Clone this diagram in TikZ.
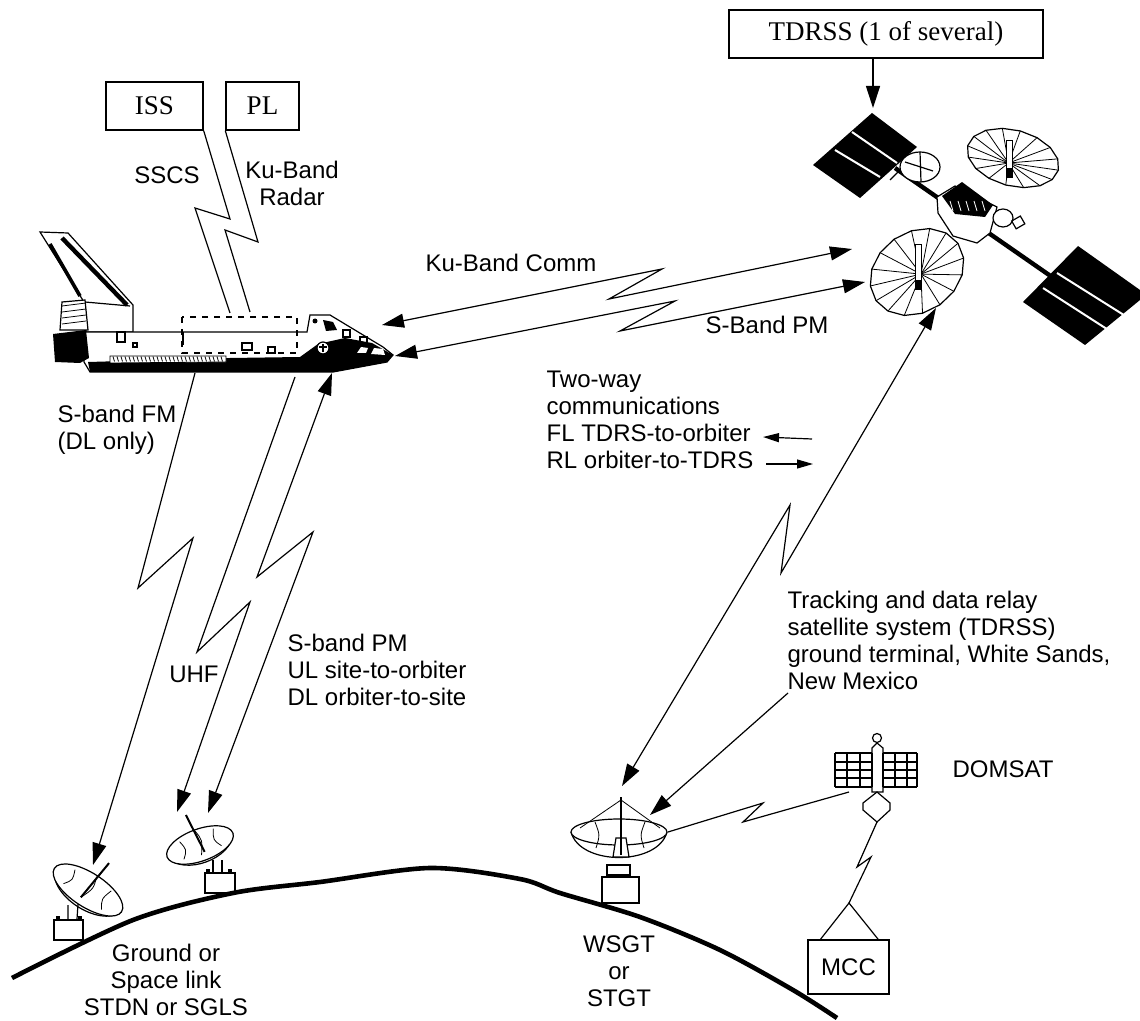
\documentclass[tikz,border=0pt]{standalone}
\usepackage{fontspec}
\setmainfont{Liberation Sans}
\newfontfamily\boxfont{Liberation Serif}
\usetikzlibrary{
    calc,
    arrows.meta,
    positioning
}
\tikzset{
    lbl/.style={font=\fontsize{12}{13.5}\selectfont,inner sep=0pt,align=left},
    cbox/.style={draw,line width=0.7pt,inner sep=0pt,font=\boxfont\fontsize{13.5}{15}\selectfont},
    link/.style={line width=0.6pt},
    bigtip/.style={-{Triangle[length=11pt,width=7pt]}},
    twotip/.style={{Triangle[length=11pt,width=7pt]}-{Triangle[length=11pt,width=7pt]}},
    smalltip/.style={-{Triangle[length=8pt,width=4.5pt]}},
    earth/.style={line width=2.3pt},
    thin/.style={line width=0.4pt}
}

\begin{document}
\begin{tikzpicture}[x=0.5pt,y=-0.5pt,line width=0.6pt]
    \useasboundingbox (0,0) rectangle (1140,1021);

    % ground
    \draw[earth] plot[smooth] coordinates {(12,978) (133,920) (233,893) (320,882) (430,868) (520,879) (560,893) (640,917) (720,950) (793,990) (837,1018)};

    % orbiter
    \filldraw[fill=white] (40,232) -- (68,233) -- (133,305) -- (133,332) -- (86,332) -- (84,302) -- cycle;
    \draw[line width=2.2pt] (62,238) -- (127,305);
    \draw[line width=1.8pt] (50,244) -- (80,296);
    \draw (85,302) -- (130,306);
    \filldraw[fill=white] (85,332) -- (307,332) -- (310,315) -- (330,315) -- (383,347) -- (393,355) -- (387,362) -- (333,372) -- (90,372) -- (84,362) -- cycle;
    \fill (88,362) -- (230,358) -- (300,357) -- (318,344) -- (345,338) -- (372,343) -- (393,355) -- (387,362) -- (333,372) -- (90,372) -- cycle;
    \filldraw[fill=white,thin] (110,356) -- (226,356) -- (226,362) -- (110,363) -- cycle;
    \foreach \i in {113,117,...,223} \draw[thin] (\i,356.5) -- (\i+1.5,361.5);
    \filldraw[fill=white] (62,302) -- (85,300) -- (88,330) -- (60,330) -- cycle;
    \foreach \i in {306,312,...,326} \draw[thin] (62,\i) -- (86,\i-3);
    \fill (53,334) -- (86,330) -- (89,358) -- (80,363) -- (55,362) -- cycle;
    \draw[dashed] (182,317) rectangle (297,353);
    \draw (183,332) -- (183,345);
    \draw (117,332) rectangle (125,342);
    \draw (133,343) rectangle (137,347);
    \draw (242,343) rectangle (252,350);
    \draw (268,347) rectangle (275,353);
    \fill (315,321) circle[radius=2.5];
    \fill (323,320) -- (333,322) -- (337,330) -- (326,331) -- cycle;
    \draw (343,330) rectangle (350,337);
    \draw (360,337) rectangle (367,343);
    \filldraw[fill=white] (323,348) circle[radius=6];
    \draw (323,344) -- (323,352) (319,347) -- (327,347);
    \fill[white] (357,353) -- (361,347) -- (368,348) -- (366,353) -- cycle;
    \fill[white] (371,354) -- (374,348) -- (383,349) -- (385,355) -- cycle;

    % TDRS
    \fill (872,113) -- (917,147) -- (860,198) -- (813,165) -- cycle;
    \draw[white,line width=1pt] (852,132) -- (897,163) (835,150) -- (880,177);
    \fill (1078,246) -- (1140,290) -- (1140,300) -- (1085,345) -- (1023,302) -- cycle;
    \draw[white,line width=1pt] (1057,273) -- (1127,317) (1043,288) -- (1113,333);
    \draw[line width=2.2pt] (895,168) -- (1052,277);
    \draw (890,180) -- (910,160) (1040,290) -- (1060,268);
    \begin{scope}[shift={(1013,158)},rotate=-15]
        \filldraw[fill=white] (0:47 and 28) \foreach \a in {22.5,45,...,337.5} {-- (\a:47 and 28)} -- cycle;
        \foreach \a in {0,22.5,...,337.5} \draw[thin] (-3,6) -- (\a:47 and 28);
    \end{scope}
    \filldraw[fill=white,thin] (1006,140) rectangle (1012,172);
    \fill (1006,168) rectangle (1013,178);
    \filldraw[fill=white] (920,167) ellipse[x radius=20, y radius=15];
    \draw (905,162) -- (933,171) (920,152) -- (921,182);
    \filldraw[fill=white] (937,197) -- (955,186) -- (997,207) -- (990,233) -- (977,243) -- (953,236) -- (938,213) -- cycle;
    \fill (942,196) -- (962,182) -- (993,205) -- (985,217) -- (955,214) -- cycle;
    \foreach \i in {950,958,...,982} \draw[white,thin] (\i,201) -- (\i+3,211);
    \filldraw[fill=white] (1003,218) ellipse[x radius=10, y radius=9];
    \draw[rotate around={30:(1018,222)}] (1013,218) rectangle (1023,227);
    \begin{scope}[shift={(917,272)},rotate=35]
        \filldraw[fill=white] (0:50 and 40) \foreach \a in {22.5,45,...,337.5} {-- (\a:50 and 40)} -- cycle;
        \foreach \a in {0,22.5,...,337.5} \draw[thin] (2,4) -- (\a:50 and 40);
    \end{scope}
    \filldraw[fill=white,thin] (915,244) rectangle (921,280);
    \fill (915,280) rectangle (922,290);

    % ground dishes
    \begin{scope}[shift={(88,890)},rotate=-33]
        \filldraw[fill=white] (-40,0) .. controls (-30,26) and (30,26) .. (40,0);
        \filldraw[fill=white] (0,0) ellipse[x radius=40, y radius=17];
        \draw[thin] (-22,-10) .. controls (-18,0) .. (-24,8) (0,-16) .. controls (4,-4) .. (-2,10) (20,-12) .. controls (16,0) .. (22,9);
        \draw[line width=1pt] (-2,10) -- (3,-34);
    \end{scope}
    \draw (68,905) -- (68,919) (78,904) -- (77,919);
    \draw (54,920) rectangle (83,940);
    \draw (57,917) rectangle (59,920) (79,917) rectangle (81,920);
    \begin{scope}[shift={(200,845)},rotate=20]
        \filldraw[fill=white] (-35,0) .. controls (-26,24) and (26,24) .. (35,0);
        \filldraw[fill=white] (0,0) ellipse[x radius=35, y radius=16];
        \draw[thin] (-18,-10) .. controls (-14,0) .. (-20,8) (0,-15) .. controls (4,-4) .. (-2,10) (18,-11) .. controls (14,0) .. (20,8);
        \draw[line width=1pt] (2,8) -- (-3,-33);
    \end{scope}
    \draw (213,860) -- (213,873) (222,860) -- (222,873);
    \draw (205,873) rectangle (235,893);
    \draw (207,870) rectangle (209,873) (229,870) rectangle (231,873);

    \filldraw[fill=white] (571,832) .. controls (580,866) and (658,866) .. (667,832);
    \filldraw[fill=white] (619,832) ellipse[x radius=48, y radius=13];
    \draw[thin] (595,822) .. controls (600,835) .. (596,848) (645,822) .. controls (640,835) .. (644,848) (580,828) -- (621,800) -- (660,828);
    \filldraw[fill=white] (613,857) -- (616,838) -- (626,838) -- (629,857) -- cycle;
    \draw[line width=1.4pt] (621,797) -- (621,855);
    \draw (607,865) rectangle (630,875);
    \draw (602,877) rectangle (639,903);

    % DOMSAT
    \draw (877,738) circle[radius=4.5];
    \filldraw[fill=white] (872,792) -- (872,748) -- (877,743) -- (883,748) -- (883,792) -- cycle;
    \foreach \y in {753,762,770,778,787} \draw[line width=1pt] (835,\y) -- (872,\y) (883,\y) -- (917,\y);
    \foreach \x in {835,847,860,872,883,895,907,917} \draw[line width=1pt] (\x,753) -- (\x,787);
    \draw (877,792) -- (890,803) -- (890,810) -- (877,822) -- (863,810) -- (863,803) -- cycle;

    % boxes and labels
    \node[cbox,minimum width=48.5pt,minimum height=24pt] (iss) at (154.5,106) {ISS};
    \node[cbox,minimum width=36.5pt,minimum height=24pt] (pl) at (262.5,106) {PL};
    \node[cbox,minimum width=157pt,minimum height=24pt] (tdrss) at (886,34) {TDRSS (1 of several)\hspace{12pt}};
    \node[draw,line width=0.7pt,minimum width=40.5pt,minimum height=27pt,inner sep=0pt,font=\fontsize{12}{14}\selectfont] (mcc) at (848.5,967) {MCC};

    \node[lbl] (sscs) at (167,175) {SSCS};
    \node[lbl,align=center] (kuradar) at (292,183) {Ku-Band\\Radar};
    \node[lbl] (kucomm) at (511,263) {Ku-Band Comm};
    \node[lbl] (sbandpm) at (767,325) {S-Band PM};
    \node[lbl,anchor=west] (twoway) at (546,420) {Two-way\\communications\\FL TDRS-to-orbiter\\RL orbiter-to-TDRS};
    \node[lbl,anchor=west] (sbandfm) at (57,430) {S-band FM\\(DL only)};
    \node[lbl] (uhf) at (194,674) {UHF};
    \node[lbl,anchor=west] (sbandgnd) at (287,670) {S-band PM\\UL site-to-orbiter\\DL orbiter-to-site};
    \node[lbl,anchor=west] (tracking) at (787,640) {Tracking and data relay\\satellite system (TDRSS)\\ground terminal, White Sands,\\New Mexico};
    \node[lbl,align=center] (wsgt) at (619,971) {WSGT\\or\\STGT};
    \node[lbl,align=center] (grnd) at (166,980) {Ground or\\Space link\\STDN or SGLS};
    \node[lbl] (domsat) at (1003,769) {DOMSAT};

    % link ends
    \coordinate (tdrs-top) at (873,108);
    \coordinate (orb-sscs) at (230,313);
    \coordinate (orb-radar) at (250,312);
    \coordinate (orb-ku) at (382,325);
    \coordinate (tdrs-ku) at (852,249);
    \coordinate (orb-s) at (395,356);
    \coordinate (tdrs-s) at (865,282);
    \coordinate (orb-fm) at (195,373);
    \coordinate (orb-uhf) at (295,377);
    \coordinate (orb-pm) at (332,373);
    \coordinate (dish-fm) at (93,865);
    \coordinate (dish-uhf) at (177,812);
    \coordinate (dish-pm) at (208,813);
    \coordinate (tdrs-gt) at (936,308);
    \coordinate (wsgt-gt) at (622,786);
    \coordinate (trk) at (788,693);
    \coordinate (wsgt-trk) at (650,815);
    \coordinate (wsgt-dom) at (668,832);
    \coordinate (dom-wsgt) at (849,792);
    \coordinate (dom-mcc) at (877,822);
    \coordinate (fork) at (849,903);
    \coordinate (fl-a) at (812,439);
    \coordinate (fl-b) at (763,437);
    \coordinate (rl-a) at (766,464);
    \coordinate (rl-b) at (813,464);

    \draw[link,bigtip] (tdrss.south -| tdrs-top) -- (tdrs-top);
    \draw[link] (iss.south east) -- (230,219) -- (195,208) -- (orb-sscs);
    \draw[link] (pl.south west) -- (258,242) -- (225,230) -- (orb-radar);
    \draw[link,twotip] (orb-ku) -- (662,269) -- (609,299) -- (tdrs-ku);
    \draw[link,twotip] (orb-s) -- (675,301) -- (620,331) -- (tdrs-s);
    \draw[link,bigtip] (orb-fm) -- (138,588) -- (193,538) -- (dish-fm);
    \draw[link,bigtip] (orb-uhf) -- (197,652) -- (250,602) -- (dish-uhf);
    \draw[link,twotip] (orb-pm) -- (257,577) -- (313,532) -- (dish-pm);
    \draw[link,twotip] (tdrs-gt) -- (781,573) -- (790,505) -- (wsgt-gt);
    \draw[link,bigtip] (trk) -- (wsgt-trk);
    \draw[link] (wsgt-dom) -- (763,803) -- (743,822) -- (dom-wsgt);
    \draw[link] (dom-mcc) -- (857,867) -- (871,857) -- (fork);
    \draw[link] ($(mcc.north west)!0.16!(mcc.north east)$) -- (fork) -- ($(mcc.north west)!0.86!(mcc.north east)$);
    \draw[link,smalltip] (fl-a) -- (fl-b);
    \draw[link,smalltip] (rl-a) -- (rl-b);
\end{tikzpicture}
\end{document}
